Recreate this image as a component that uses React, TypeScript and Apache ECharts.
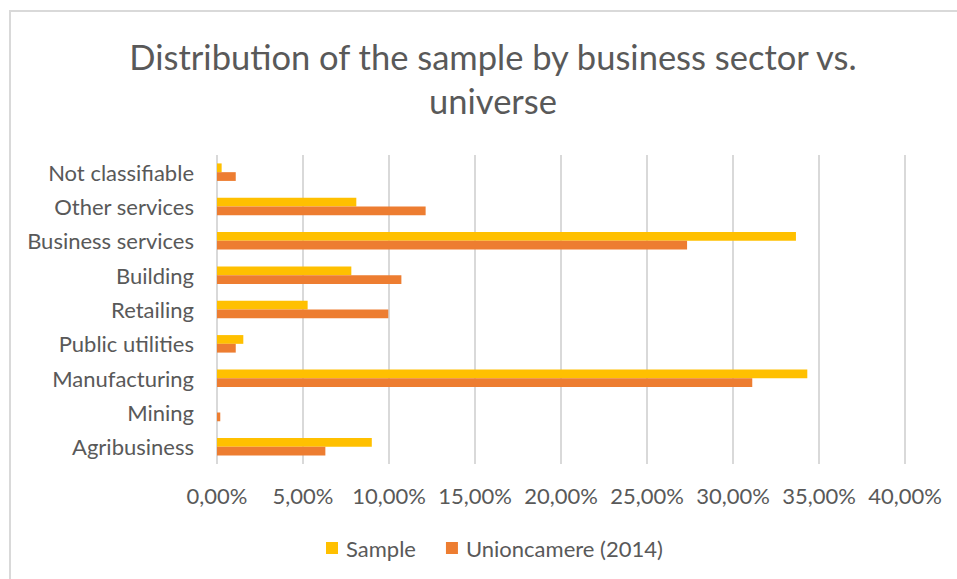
import React, { useEffect, useRef } from "react";
import * as echarts from "echarts";

const categories = [
  "Not classifiable",
  "Other services",
  "Business services",
  "Building",
  "Retailing",
  "Public utilities",
  "Manufacturing",
  "Mining",
  "Agribusiness",
];
const sampleValues = [0.0027, 0.081, 0.3366, 0.0781, 0.0527, 0.0153, 0.3432, 0.0, 0.09];
const unioncamereValues = [0.0109, 0.1213, 0.2733, 0.1072, 0.0996, 0.0109, 0.3112, 0.0019, 0.063];
const seriesNames = ["Sample", "Unioncamere (2014)"];
const titleText = "Distribution of the sample by business sector vs.\nuniverse";

const FONT = "Lato";
const TEXT = "#595959";

export default function App() {
  const ref = useRef<HTMLDivElement>(null);
  useEffect(() => {
    if (!ref.current) return;
    const chart = echarts.init(ref.current, undefined, { renderer: "svg" });
    chart.setOption({
      animation: false,
      backgroundColor: "#ffffff",
      title: {
        text: titleText,
        left: 488,
        top: 29,
        textAlign: "center",
        textStyle: {
          fontFamily: FONT,
          fontSize: 34.5,
          fontWeight: "normal",
          color: TEXT,
          lineHeight: 44,
        },
      },
      graphic: [
        { type: "line", shape: { x1: 9, y1: 11, x2: 957, y2: 11 }, style: { stroke: "#d9d9d9", lineWidth: 2 } },
        { type: "line", shape: { x1: 10, y1: 10, x2: 10, y2: 579 }, style: { stroke: "#d9d9d9", lineWidth: 2 } },
      ],
      legend: {
        data: seriesNames,
        left: 326,
        top: 537,
        padding: 0,
        itemWidth: 12,
        itemHeight: 12,
        itemGap: 30,
        icon: "rect",
        textStyle: { fontFamily: FONT, fontSize: 22, color: TEXT, padding: [0, 0, 0, 3] },
      },
      grid: { left: 217, right: 52, top: 155, bottom: 115, containLabel: false },
      xAxis: {
        type: "value",
        min: 0,
        max: 0.4,
        interval: 0.05,
        axisLine: { show: false },
        axisTick: { show: false },
        splitLine: { show: true, lineStyle: { color: "#d9d9d9", width: 2 } },
        axisLabel: {
          margin: 20,
          fontFamily: FONT,
          fontSize: 22,
          color: TEXT,
          formatter: (v: number) => (v * 100).toFixed(2).replace(".", ",") + "%",
        },
      },
      yAxis: {
        type: "category",
        data: categories,
        inverse: true,
        axisLine: { show: false },
        axisTick: { show: false },
        axisLabel: { margin: 23, fontFamily: FONT, fontSize: 22, color: TEXT },
      },
      series: [
        {
          name: seriesNames[0],
          type: "bar",
          data: sampleValues,
          itemStyle: { color: "#FFC000" },
          barGap: "0%",
          barCategoryGap: "49%",
        },
        {
          name: seriesNames[1],
          type: "bar",
          data: unioncamereValues,
          itemStyle: { color: "#ED7D31" },
          barGap: "0%",
          barCategoryGap: "49%",
        },
      ],
    });
    return () => chart.dispose();
  }, []);
  return (
    <div
      ref={ref}
      style={{ position: "fixed", left: 0, top: 0, width: 957, height: 579 }}
    />
  );
}
